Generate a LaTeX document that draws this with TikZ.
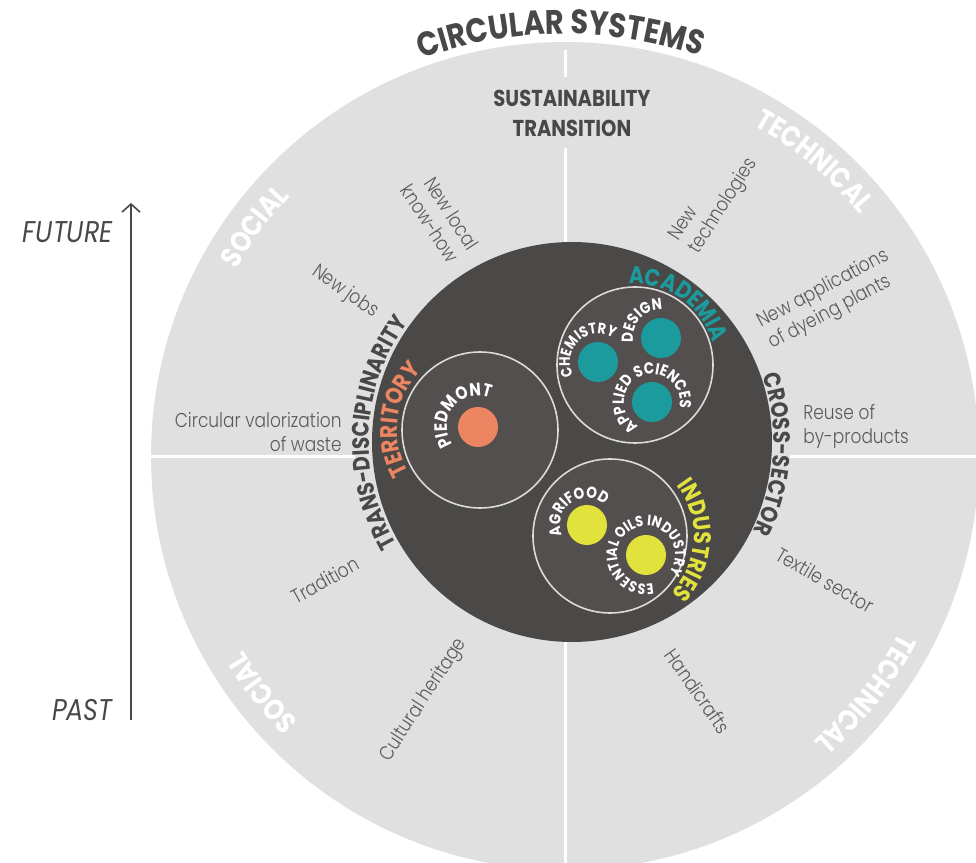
\documentclass[tikz,border=0pt]{standalone}
\usepackage{fontspec}
\setmainfont{Poppins}[FakeStretch=0.85]
\newfontfamily\thinfont{Poppins Light}[FakeStretch=0.85]
\usetikzlibrary{decorations.text,arrows.meta}

\definecolor{ringgray}{HTML}{E1E0E0}
\definecolor{coredark}{HTML}{4B4948}
\definecolor{clusterdark}{HTML}{524F4E}
\definecolor{labeldark}{HTML}{4A4847}
\definecolor{notegray}{HTML}{5A5A5A}
\definecolor{acadteal}{HTML}{1B9B9D}
\definecolor{terrorange}{HTML}{EC8562}
\definecolor{indyellow}{HTML}{E2E23C}

\newcommand{\titlefont}{\fontsize{17}{17}\selectfont\bfseries}
\newcommand{\ringfont}{\fontsize{14.5}{14.5}\selectfont\bfseries}
\newcommand{\corefont}{\fontsize{11.8}{11.8}\selectfont\bfseries}
\newcommand{\groupfont}{\fontsize{12}{12}\selectfont\bfseries}
\newcommand{\spotfont}{\fontsize{8}{8}\selectfont\bfseries}

% text on a clockwise arc: centre, radius, mid angle, half span, colour, font, text
\newcommand{\arclabel}[7]{%
  \path[decorate,decoration={text along path,text align=center,text color=#5,text={|#6|#7}}]
    (#1) ++(#3+#4:#2) arc[start angle=#3+#4,end angle=#3-#4,radius=#2];}

\begin{document}
\begin{tikzpicture}[x=0.5pt,y=0.5pt,
    note/.style={text=notegray,font=\thinfont\fontsize{10}{12}\selectfont,inner sep=0pt},
    spot/.style={circle,minimum size=20pt,inner sep=0pt},
    cluster/.style={circle,fill=clusterdark,draw=white!80!coredark,line width=0.8pt,minimum size=#1,inner sep=0pt},
    divider/.style={white,line width=1.5pt},
    timelbl/.style={anchor=east,text=labeldark,font=\fontsize{15}{15}\selectfont\itshape,inner sep=0pt}]
    \useasboundingbox (0,0) rectangle (976,863);
    \clip (0,0) rectangle (976,863);
    \coordinate (B) at (565,407);
    \coordinate (D) at (572,421);

    % outer ring and quadrants
    \fill[ringgray] (B) circle[radius=414];
    \draw[divider] (565,813) -- (565,786);
    \draw[divider] (565,715) -- (565,-10);
    \draw[divider] (150,406) -- (355,406);
    \draw[divider] (790,406) -- (990,406);
    \fill[coredark] (D) circle[radius=200];

    \node[cluster=78pt] (territory) at (480,433) {};
    \node[cluster=78pt] (academia) at (635,498) {};
    \node[cluster=77pt] (industries) at (610,327) {};

    \node[spot,fill=terrorange] (piedmont) at (478,436) {};
    \node[spot,fill=acadteal] (chemistry) at (598,501) {};
    \node[spot,fill=acadteal] (design) at (661,525) {};
    \node[spot,fill=acadteal] (applied) at (652,461) {};
    \node[spot,fill=indyellow] (agrifood) at (587,338) {};
    \node[spot,fill=indyellow] (oils) at (646,308) {};

    % curved labels
    \arclabel{B}{422}{90.6}{80}{labeldark}{\titlefont}{CIRCULAR SYSTEMS}
    \arclabel{B}{378}{143.5}{60}{white}{\ringfont}{SOCIAL}
    \arclabel{B}{381}{49.8}{60}{white}{\ringfont}{TECHNICAL}
    \arclabel{B}{376}{218}{60}{white}{\ringfont}{SOCIAL}
    \arclabel{B}{378}{-38.4}{60}{white}{\ringfont}{TECHNICAL}
    \arclabel{D}{203}{177}{80}{labeldark}{\corefont}{TRANS-DISCIPLINARITY}
    \arclabel{D}{202}{-3.5}{80}{labeldark}{\corefont}{CROSS-SECTOR}
    \arclabel{territory}{83}{172.5}{70}{terrorange}{\groupfont}{TERRITORY}
    \arclabel{academia}{81}{55}{70}{acadteal}{\groupfont}{ACADEMIA}
    \arclabel{industries}{84}{-3}{70}{indyellow}{\groupfont}{INDUSTRIES}
    \arclabel{piedmont}{31}{141}{120}{white}{\fontsize{9}{9}\selectfont\bfseries}{PIEDMONT}
    \arclabel{chemistry}{28}{133}{120}{white}{\fontsize{7.6}{7.6}\selectfont\bfseries}{CHEMISTRY}
    \arclabel{design}{28}{138}{120}{white}{\spotfont}{DESIGN}
    \arclabel{applied}{28}{114}{160}{white}{\spotfont}{APPLIED SCIENCES}
    \arclabel{agrifood}{27}{125.5}{120}{white}{\spotfont}{AGRIFOOD}
    \arclabel{oils}{29}{123}{178}{white}{\fontsize{7.5}{7.5}\selectfont\bfseries}{ESSENTIAL OILS INDUSTRY}

    \node[text=labeldark,font=\fontsize{11.5}{15}\selectfont\bfseries,align=center] (transition) at (572,750) {SUSTAINABILITY\\TRANSITION};

    % notes
    \node[note,rotate=-57,align=right] (knowhow) at (440,646) {New local\\know-how};
    \node[note,rotate=-35] (jobs) at (345,571) {New jobs};
    \node[note,align=right,anchor=east] (waste) at (342,431) {Circular valorization\\of waste};
    \node[note,rotate=29] (tradition) at (325,283) {Tradition};
    \node[note,rotate=57] (heritage) at (424,163) {Cultural heritage};
    \node[note,rotate=57.5,align=left] (newtech) at (714,663) {New\\technologies};
    \node[note,rotate=28,align=left] (dyeing) at (829,563) {New applications\\of dyeing plants};
    \node[note,align=left,anchor=west] (reuse) at (803,436) {Reuse of\\by-products};
    \node[note,rotate=-30] (textile) at (825,283) {Textile sector};
    \node[note,rotate=-55] (crafts) at (698,172) {Handicrafts};

    % time axis
    \coordinate (past) at (131,143);
    \coordinate (future) at (131,660);
    \draw[labeldark,line width=0.8pt,-{Straight Barb[length=4pt,width=9pt]}] (past) -- (future);
    \node[timelbl] (futurelbl) at (113,631) {FUTURE};
    \node[timelbl] (pastlbl) at (113,153) {PAST};
\end{tikzpicture}
\end{document}
